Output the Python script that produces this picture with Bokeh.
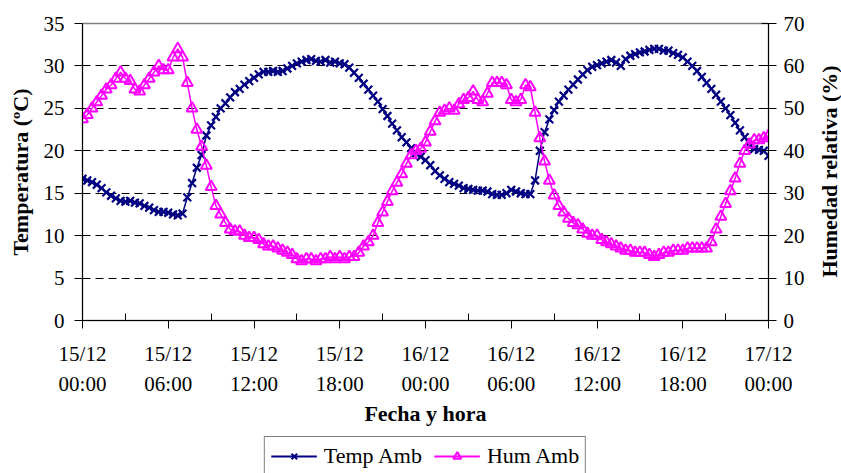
import math
from bokeh.plotting import figure
from bokeh.models import Range1d, LinearAxis, FixedTicker, Legend, LegendItem
from bokeh.layouts import row, column
from bokeh.core.properties import value
from bokeh.embed import file_html
from bokeh.resources import INLINE

# sampling step of the readings (minutes)
step_min = 20

temp_amb = [16.7, 16.5, 16.3, 16.0, 15.6, 15.1, 14.7, 14.4, 14.1, 14.0,
            14.1, 13.9, 13.8, 13.5, 13.3, 13.0, 12.8, 12.8, 12.7, 12.5,
            12.4, 12.6, 14.5, 16.2, 18.0, 19.5, 21.8, 23.0, 24.0, 25.0,
            25.6, 26.3, 26.9, 27.3, 27.8, 28.2, 28.6, 29.0, 29.3, 29.3,
            29.4, 29.3, 29.4, 29.7, 30.0, 30.3, 30.5, 30.7, 30.8, 30.6,
            30.5, 30.7, 30.4, 30.5, 30.3, 30.2, 29.8, 29.2, 28.6, 27.9,
            27.2, 26.5, 25.8, 24.9, 24.1, 23.2, 22.4, 21.6, 21.0, 20.3,
            19.7, 19.3, 18.9, 18.3, 17.6, 17.1, 16.7, 16.3, 16.1, 15.9,
            15.6, 15.5, 15.4, 15.3, 15.3, 15.2, 14.9, 14.8, 14.8, 15.0,
            15.4, 15.2, 15.0, 14.9, 14.9, 16.5, 20.0, 22.2, 23.7, 24.8,
            25.8, 26.5, 27.2, 27.8, 28.4, 29.0, 29.5, 29.9, 30.1, 30.3,
            30.5, 30.7, 30.4, 30.0, 30.8, 31.2, 31.4, 31.6, 31.7, 31.9,
            32.0, 32.0, 31.8, 31.8, 31.5, 31.3, 31.0, 30.5, 30.0, 29.4,
            28.7, 28.0, 27.3, 26.6, 25.8, 25.0, 24.2, 23.3, 22.4, 21.6,
            20.5, 20.2, 20.1, 20.0, 19.4]

hum_amb = [47.5, 48.5, 50.0, 51.5, 53.0, 54.5, 55.5, 57.0, 58.5, 57.0,
           56.5, 54.5, 54.0, 55.5, 57.0, 58.5, 60.0, 59.0, 59.0, 62.0,
           64.0, 62.0, 56.0, 50.0, 45.0, 41.0, 36.5, 31.5, 27.0, 25.0,
           23.0, 21.5, 21.0, 21.0, 20.0, 19.5, 19.5, 19.0, 18.0, 17.5,
           17.5, 17.0, 16.5, 16.0, 15.5, 14.5, 14.0, 14.5, 14.5, 14.0,
           14.5, 14.5, 15.0, 14.5, 15.0, 14.5, 15.0, 15.0, 16.0, 17.5,
           18.5, 20.0, 23.0, 25.5, 28.0, 30.5, 32.5, 34.5, 37.0, 39.0,
           40.0, 40.5, 42.0, 44.5, 47.0, 49.0, 49.5, 50.0, 49.5, 51.0,
           52.0, 52.5, 54.0, 52.0, 51.5, 53.5, 56.0, 56.0, 56.0, 55.5,
           52.0, 51.5, 52.0, 55.5, 55.0, 49.0, 43.0, 37.5, 33.0, 29.5,
           27.0, 25.5, 24.0, 23.0, 22.5, 21.5, 20.5, 20.0, 20.0, 19.0,
           18.5, 18.0, 17.5, 17.0, 16.5, 16.5, 16.0, 16.0, 16.0, 15.5,
           15.0, 15.5, 16.0, 16.0, 16.5, 16.5, 16.5, 17.0, 17.0, 17.0,
           17.0, 17.0, 18.5, 21.5, 24.5, 27.5, 30.5, 33.5, 37.0, 40.0,
           41.5, 42.5, 42.5, 43.0, 43.5]

hours = [i * step_min / 60.0 for i in range(len(temp_amb))]

x_tick_hours = [0, 6, 12, 18, 24, 30, 36, 42, 48]
x_tick_labels = ["15/12\n00:00", "15/12\n06:00", "15/12\n12:00", "15/12\n18:00",
                 "16/12\n00:00", "16/12\n06:00", "16/12\n12:00", "16/12\n18:00",
                 "17/12\n00:00"]
x_minor_hours = [3, 9, 15, 21, 27, 33, 39, 45]
temp_ticks = [0, 5, 10, 15, 20, 25, 30, 35]
hum_ticks = [0, 10, 20, 30, 40, 50, 60, 70]
grid_ticks = [5, 10, 15, 20, 25, 30]
right_title = "Humedad relativa (%)"

FONT = "Liberation Serif"
NAVY = "#000080"
MAGENTA = "#FF00FF"

MAIN_W, MAIN_H = 812, 432
LEFT_B, RIGHT_B = 82, 44

p = figure(width=MAIN_W, height=MAIN_H, output_backend="svg", toolbar_location=None,
           x_range=Range1d(0, 48), y_range=Range1d(0, 35),
           min_border_left=LEFT_B, min_border_top=23, min_border_right=RIGHT_B,
           min_border_bottom=112)
p.extra_y_ranges = {"hum": Range1d(0, 70)}
p.background_fill_color = "white"
p.border_fill_color = "white"
p.outline_line_color = "#808080"
p.outline_line_width = 1.5

p.xgrid.visible = False
p.ygrid.ticker = FixedTicker(ticks=grid_ticks)
p.ygrid.grid_line_color = "#000000"
p.ygrid.grid_line_dash = "8 5"
p.ygrid.grid_line_width = 1

xa = p.xaxis[0]
xa.ticker = FixedTicker(ticks=x_tick_hours, minor_ticks=x_minor_hours)
xa.major_label_overrides = {h: lab for h, lab in zip(x_tick_hours, x_tick_labels)}
xa.axis_label = "Fecha y hora"
xa.axis_label_text_font = FONT
xa.axis_label_text_font_size = "22px"
xa.axis_label_text_font_style = "bold"
xa.axis_label_text_color = "black"
xa.axis_label_standoff = 2
xa.major_label_text_font = FONT
xa.major_label_text_font_size = "21px"
xa.major_label_text_color = "black"
xa.major_label_text_line_height = 1.25
xa.major_label_standoff = 13
xa.major_tick_in = 0
xa.major_tick_out = 8
xa.minor_tick_in = 7
xa.minor_tick_out = 0
xa.axis_line_color = "black"
xa.major_tick_line_color = "black"
xa.minor_tick_line_color = "black"

ya = p.yaxis[0]
ya.ticker = FixedTicker(ticks=temp_ticks)
ya.axis_label = "Temperatura (ºC)"
ya.axis_label_text_font = FONT
ya.axis_label_text_font_size = "22px"
ya.axis_label_text_font_style = "bold"
ya.axis_label_text_color = "black"
ya.axis_label_standoff = 8
ya.major_label_text_font = FONT
ya.major_label_text_font_size = "21px"
ya.major_label_text_color = "black"
ya.major_label_standoff = 10
ya.major_tick_in = 0
ya.major_tick_out = 8
ya.minor_tick_line_color = None
ya.axis_line_color = "black"

ra = LinearAxis(y_range_name="hum", ticker=FixedTicker(ticks=hum_ticks))
ra.major_label_text_font = FONT
ra.major_label_text_font_size = "21px"
ra.major_label_text_color = "black"
ra.major_label_standoff = 7
ra.major_tick_in = 7
ra.major_tick_out = 8
ra.minor_tick_line_color = None
ra.axis_line_color = "black"
p.add_layout(ra, "right")

lt = p.line(hours, temp_amb, line_color=NAVY, line_width=1.5)
st = p.scatter(hours, temp_amb, marker="x", size=11, line_color=NAVY, line_width=2.2)
lh = p.line(hours, hum_amb, line_color=MAGENTA, line_width=1.5, y_range_name="hum")
sh = p.scatter(hours, hum_amb, marker="triangle", size=11, fill_color=None,
               line_color=MAGENTA, line_width=2.0, y_range_name="hum")

# legend strip below the chart (same data, ranges chosen so nothing is drawn)
lp = figure(width=MAIN_W, height=473 - MAIN_H, output_backend="svg",
            toolbar_location=None, x_range=Range1d(-1000, -999),
            y_range=Range1d(-1000, -999), x_axis_type=None, y_axis_type=None,
            min_border_left=LEFT_B, min_border_top=0, min_border_right=RIGHT_B,
            min_border_bottom=0)
lp.outline_line_color = None
lp.grid.visible = False
llt = lp.line(hours, temp_amb, line_color=NAVY, line_width=2)
lst = lp.scatter(hours, temp_amb, marker="x", size=8, line_color=NAVY, line_width=2)
llh = lp.line(hours, hum_amb, line_color=MAGENTA, line_width=2)
lsh = lp.scatter(hours, hum_amb, marker="triangle", size=8, fill_color=None,
                 line_color=MAGENTA, line_width=2)
legend = Legend(items=[LegendItem(label="Temp Amb", renderers=[llt, lst]),
                       LegendItem(label="Hum Amb", renderers=[llh, lsh])],
                orientation="horizontal", location="top_center")
legend.label_text_font = FONT
legend.label_text_font_size = "22px"
legend.label_text_color = "black"
legend.border_line_color = "black"
legend.border_line_width = 1
legend.glyph_width = 46
legend.glyph_height = 20
legend.label_standoff = 7
legend.spacing = 12
legend.padding = 6
legend.margin = 4
legend.background_fill_color = "white"
lp.add_layout(legend, "center")

# right-hand axis title (reads bottom to top)
tp = figure(width=841 - MAIN_W, height=473, output_backend="svg",
            toolbar_location=None, x_range=Range1d(0, 841 - MAIN_W),
            y_range=Range1d(0, 473), x_axis_type=None, y_axis_type=None,
            min_border_left=0, min_border_top=0, min_border_right=0,
            min_border_bottom=0)
tp.outline_line_color = None
tp.grid.visible = False
tp.text(x=[17], y=[302], text=[right_title], angle=math.pi / 2,
        text_align="center", text_baseline="middle",
        text_font=value(FONT), text_font_style="bold",
        text_font_size="22px", text_color="black")

layout = row(column(p, lp, spacing=0), tp, spacing=0)
open("out.html", "w").write(file_html(layout, INLINE))
